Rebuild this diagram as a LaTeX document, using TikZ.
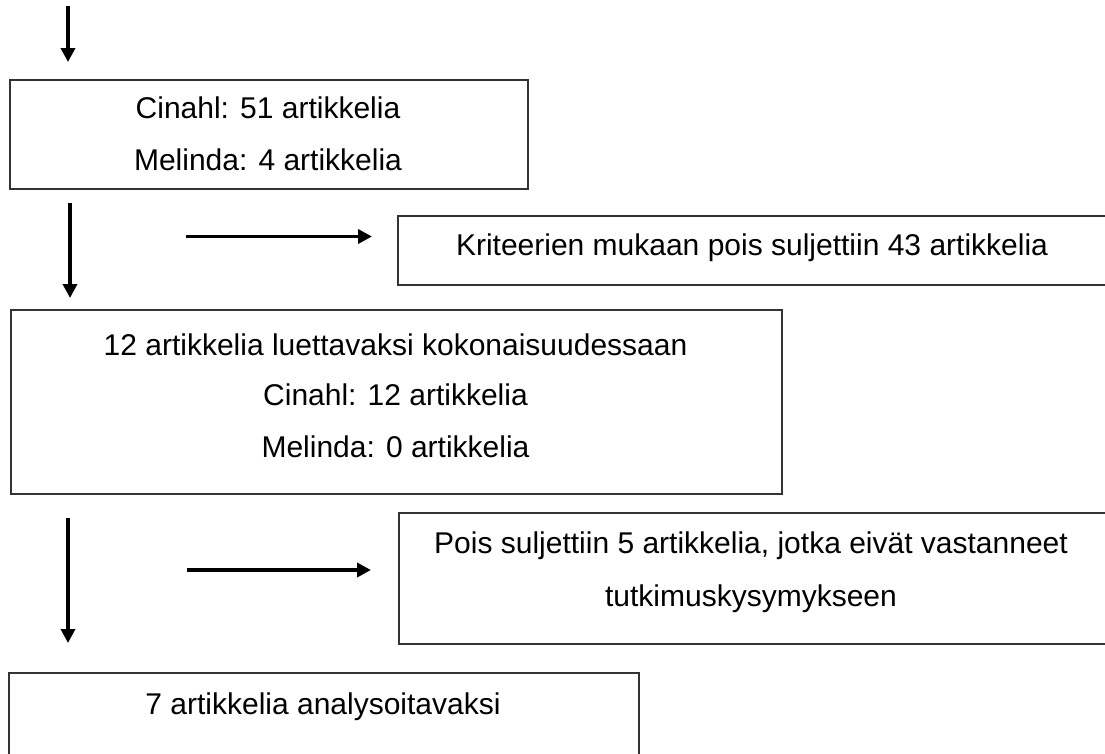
\documentclass[tikz,border=0pt]{standalone}
\usepackage{fontspec}
\setmainfont{Liberation Sans}
\usetikzlibrary{arrows.meta}
\begin{document}
\begin{tikzpicture}[x=1pt,y=-1pt,
  box/.style={draw=black!80, line width=1.6pt, inner sep=0pt, anchor=north west},
  txt/.style={font=\fontsize{30}{36}\selectfont, inner sep=0pt, anchor=center},
  arr/.style={line width=3.5pt, -{Triangle[length=14pt,width=14pt]}}]
\useasboundingbox (0,0) rectangle (1105,753);
\begin{scope}
\clip (0,0) rectangle (1105,753);
% boxes
\node[box, minimum width=518pt, minimum height=109pt] (b1) at (9,79) {};
\node[box, minimum width=712pt, minimum height=69pt] (b2) at (397,215) {};
\node[box, minimum width=771pt, minimum height=184pt] (b3) at (10,309) {};
\node[box, minimum width=710pt, minimum height=131pt] (b4) at (398,512) {};
\node[box, minimum width=630pt, minimum height=120pt] (b5) at (8,672) {};
% texts
\node[txt] (t1a) at (268,108) {Cinahl: 51 artikkelia};
\node[txt] (t1b) at (268,160) {Melinda: 4 artikkelia};
\node[txt] (t2) at (752,248) {Kriteerien mukaan pois suljettiin 43 artikkelia};
\node[txt] (t3a) at (395.5,345) {12 artikkelia luettavaksi kokonaisuudessaan};
\node[txt] (t3b) at (395.5,395) {Cinahl: 12 artikkelia};
\node[txt] (t3c) at (395.5,447) {Melinda: 0 artikkelia};
\node[txt] (t4a) at (751,546) {Pois suljettiin 5 artikkelia, jotka eivät vastanneet};
\node[txt] (t4b) at (751,599) {tutkimuskysymykseen};
\node[txt] (t5) at (323,707) {7 artikkelia analysoitavaksi};
% arrow end points
\coordinate (a1s) at (68,6);   \coordinate (a1e) at (68,62);
\coordinate (a2s) at (70,203); \coordinate (a2e) at (70,298);
\coordinate (a3s) at (68,518); \coordinate (a3e) at (68,643);
\coordinate (h1s) at (186,236.5); \coordinate (h1e) at (372,236.5);
\coordinate (h2s) at (187,570); \coordinate (h2e) at (371,570);
\draw[arr] (a1s) -- (a1e);
\draw[arr] (a2s) -- (a2e);
\draw[arr] (a3s) -- (a3e);
\draw[arr] (h1s) -- (h1e);
\draw[arr] (h2s) -- (h2e);
\end{scope}
\end{tikzpicture}
\end{document}
